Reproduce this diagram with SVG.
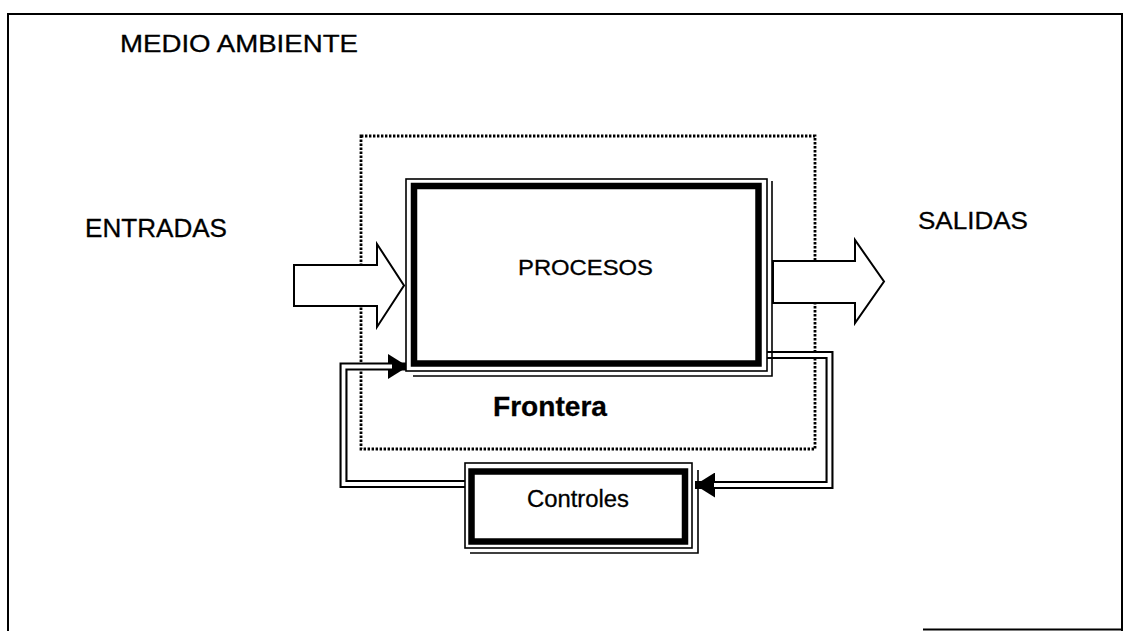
<svg xmlns="http://www.w3.org/2000/svg" width="1126" height="631" viewBox="0 0 1126 631">
<style>
  .lbl { font-family: "Liberation Sans", Arial, sans-serif; fill: #000; stroke: #000; stroke-width: 0.3; }
  .frame { fill: none; stroke: #000; stroke-width: 2; }
  .dotted { fill: none; stroke: #000; stroke-width: 2.8; stroke-dasharray: 2.4 1.6; }
  .thin { fill: none; stroke: #000; stroke-width: 1.6; }
  .thick { fill: none; stroke: #000; stroke-width: 6.5; stroke-linejoin: miter; }
  .fat { fill: #fff; stroke: #000; stroke-width: 2; stroke-linejoin: miter; }
  .dbl-out { fill: none; stroke: #000; stroke-width: 8; stroke-linejoin: miter; }
  .dbl-in { fill: none; stroke: #fff; stroke-width: 3.8; stroke-linejoin: miter; }
</style>
<defs>
  <marker id="head" markerUnits="userSpaceOnUse" viewBox="0 0 20 25" markerWidth="20" markerHeight="25" refX="20" refY="12.5" orient="auto">
    <path d="M0,0 L20,12.5 L0,25 Z" fill="#000"/>
  </marker>
</defs>
<rect width="1126" height="631" fill="#fff"/>

<g id="medio-ambiente">
  <path class="frame" d="M8,631 V14 H1122 V631 M923,629.5 H1122"/>
  <text class="lbl" x="120" y="52" font-size="24" textLength="238" lengthAdjust="spacingAndGlyphs">MEDIO AMBIENTE</text>
</g>

<g id="frontera">
  <rect class="dotted" x="361" y="136" width="454" height="313"/>
  <text class="lbl" x="493" y="416" font-size="27" font-weight="bold" textLength="114" lengthAdjust="spacingAndGlyphs">Frontera</text>
</g>

<g id="connectors">
  <path class="dbl-out" d="M466,484 H343.5 V366.5 H408" marker-end="url(#head)"/>
  <path class="dbl-in" d="M466,484 H343.5 V366.5 H392"/>
  <path class="dbl-out" d="M766,355 H829.5 V485 H695" marker-end="url(#head)"/>
  <path class="dbl-in" d="M764,355 H829.5 V485 H714"/>
</g>

<g id="procesos">
  <rect x="406" y="179" width="361" height="192" fill="#fff" stroke="#000" stroke-width="1.6"/>
  <rect class="thick" x="414" y="186" width="344.5" height="177.5"/>
  <path class="thin" d="M772,181 V376 H413" stroke-width="1.2"/>
  <text class="lbl" x="518" y="275" font-size="22" textLength="135" lengthAdjust="spacingAndGlyphs">PROCESOS</text>
</g>

<g id="controles">
  <rect x="465" y="463" width="227" height="85" fill="#fff" stroke="#000" stroke-width="1.6"/>
  <rect class="thick" x="471.5" y="471.5" width="213.5" height="70"/>
  <path class="thin" d="M698,470 V553 H470" stroke-width="1.2"/>
  <text class="lbl" x="527" y="507" font-size="23" textLength="102" lengthAdjust="spacingAndGlyphs">Controles</text>
</g>

<g id="entradas">
  <polygon class="fat" points="294,265 377,265 377,244 404,285.5 377,327 377,306 294,306"/>
  <text class="lbl" x="85" y="237" font-size="25" textLength="142" lengthAdjust="spacingAndGlyphs">ENTRADAS</text>
</g>

<g id="salidas">
  <polygon class="fat" points="773,261 855,261 855,240 884,281.5 855,323 855,303 773,303"/>
  <text class="lbl" x="918" y="229" font-size="23.5" textLength="110" lengthAdjust="spacingAndGlyphs">SALIDAS</text>
</g>
</svg>
